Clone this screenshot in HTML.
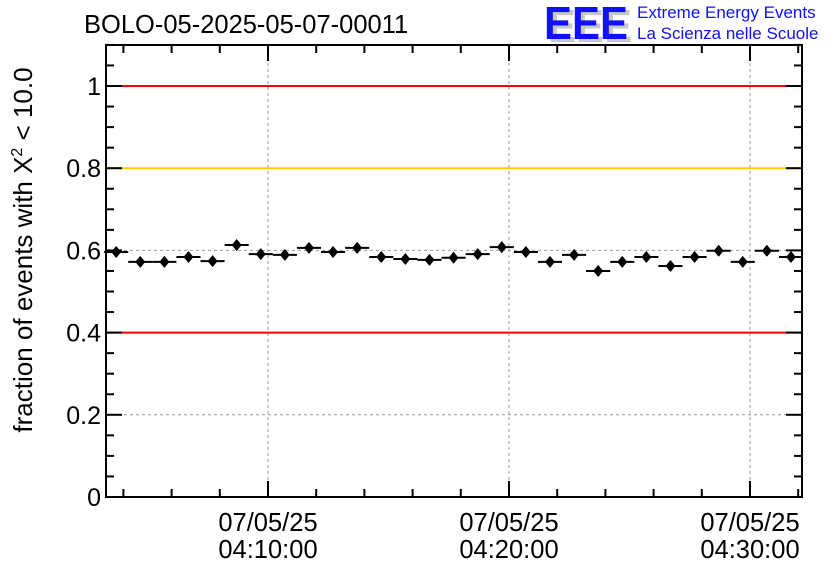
<!DOCTYPE html>
<html><head><meta charset="utf-8"><style>
body{margin:0;background:#fff;}
svg{display:block;font-family:"Liberation Sans",sans-serif;}
</style></head><body>
<svg id="chart" width="836" height="572">
<text x="84" y="33" font-size="25.5">BOLO-05-2025-05-07-00011</text>
<g>
<text x="548" y="42" font-size="46" font-weight="bold" fill="#c8c8c8" textLength="84" lengthAdjust="spacingAndGlyphs">EEE</text>
<text x="544" y="39" font-size="46" font-weight="bold" fill="#1010ff" textLength="84" lengthAdjust="spacingAndGlyphs">EEE</text>
<text x="637" y="18" font-size="17" fill="#1010ff">Extreme Energy Events</text>
<text x="637" y="39" font-size="17" fill="#1010ff">La Scienza nelle Scuole</text>
</g>
<text transform="translate(32,250) rotate(-90)" text-anchor="middle" font-size="26">fraction of events with X<tspan dy="-10" font-size="16">2</tspan><tspan dy="10"> &lt; 10.0</tspan></text>
<g id="plot"></g>
</svg>
<script>
const yVals=[0.596,0.572,0.572,0.584,0.574,0.613,0.591,0.589,0.606,0.596,0.606,0.584,0.579,0.577,0.582,0.591,0.608,0.596,0.572,0.589,0.550,0.572,0.584,0.562,0.584,0.599,0.572,0.599,0.584];
const yErr=[0.012,0.012,0.012,0.012,0.012,0.012,0.012,0.012,0.012,0.012,0.012,0.012,0.012,0.012,0.012,0.012,0.012,0.012,0.012,0.012,0.012,0.012,0.012,0.012,0.012,0.012,0.012,0.012,0.012];
const startMin=-6.3;
const yTicks=[0,0.2,0.4,0.6,0.8,1];
const yTickLabels=["0","0.2","0.4","0.6","0.8","1"];
const xLabelMins=[0,10,20];
const xLabels=[["07/05/25","04:10:00"],["07/05/25","04:20:00"],["07/05/25","04:30:00"]];
const refLines=[[1,"#ff0000"],[0.8,"#ffcc00"],[0.4,"#ff0000"]];

const L=106,R=802,T=45,B=497;
const X=m=>268+m*24.1;
const Y=v=>B-v*411;
const g=document.getElementById('plot');
const NS='http://www.w3.org/2000/svg';
function mk(t,a,p){const e=document.createElementNS(NS,t);for(const k in a)e.setAttribute(k,a[k]);(p||g).appendChild(e);return e;}
xLabelMins.forEach(m=>{const e=mk('line',{x1:X(m),x2:X(m),y1:T,y2:B,stroke:'#999','stroke-dasharray':'3,3'});

});
yTicks.forEach(v=>{if(v===0||v===1)return;const e=mk('line',{x1:L,x2:R,y1:Y(v),y2:Y(v),stroke:'#999','stroke-dasharray':'3,3'});

});
refLines.forEach(r=>{const e=mk('line',{x1:L,x2:R,y1:Y(r[0]),y2:Y(r[0]),stroke:r[1],'stroke-width':2});

});
const fr=mk('rect',{x:L,y:T,width:R-L,height:B-T,fill:'none',stroke:'#000','stroke-width':2});


for(let v=0;v<=1.1001;v+=0.05){const maj=Math.abs(v/0.2-Math.round(v/0.2))<1e-6;const len=maj?16:8;
mk('line',{x1:L,x2:L+len,y1:Y(v),y2:Y(v),stroke:'#000','stroke-width':2});
mk('line',{x1:R,x2:R-len,y1:Y(v),y2:Y(v),stroke:'#000','stroke-width':2});}
yTicks.forEach((v,i)=>{const t=mk('text',{x:L-5,y:Y(v)+9,'text-anchor':'end','font-size':25});t.textContent=yTickLabels[i];

});
for(let m=-6;X(m)<R;m+=2){if(X(m)<L)continue;const maj=m%10===0;const len=maj?16:8;
mk('line',{x1:X(m),x2:X(m),y1:B,y2:B-len,stroke:'#000','stroke-width':2});
mk('line',{x1:X(m),x2:X(m),y1:T,y2:T+len,stroke:'#000','stroke-width':2});}
xLabelMins.forEach((m,i)=>{xLabels[i].forEach((s,j)=>{const t=mk('text',{x:X(m),y:531+j*27,'text-anchor':'middle','font-size':25.5});t.textContent=s;

});});
yVals.forEach((v,i)=>{const m=startMin+i;const cx=X(m),cy=Y(v);
const gg=mk('g',{});


mk('line',{x1:X(m-0.5),x2:X(m+0.5),y1:cy,y2:cy,stroke:'#000','stroke-width':2},gg);
mk('line',{x1:cx,x2:cx,y1:Y(v-yErr[i]),y2:Y(v+yErr[i]),stroke:'#000','stroke-width':2},gg);
mk('polygon',{points:`${cx},${cy-6} ${cx+5},${cy} ${cx},${cy+6} ${cx-5},${cy}`,fill:'#000'},gg);});
</script>
</body></html>
